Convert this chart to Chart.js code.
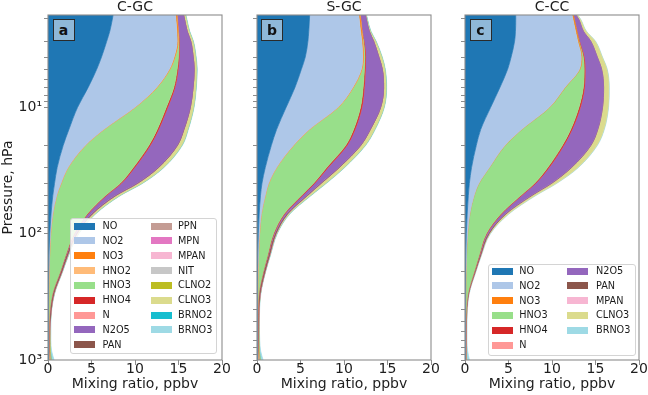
<!DOCTYPE html>
<html><head><meta charset="utf-8">
<script src="https://cdn.jsdelivr.net/npm/chart.js@4.4.1/dist/chart.umd.min.js"></script>
<style>
html,body{margin:0;padding:0;background:#fff;}
#wrap{position:relative;width:648px;height:395px;overflow:hidden;font-family:'DejaVu Sans',sans-serif;}
#wrap canvas{position:absolute;left:0;top:0;}
.leg{position:absolute;border:1px solid #d4d4d4;border-radius:3px;background:rgba(255,255,255,0.85);box-sizing:border-box;}
.sw{position:absolute;width:21px;height:7px;}
.lt{position:absolute;font-size:9.7px;line-height:10px;color:#1a1a1a;white-space:nowrap;}
.tag{position:absolute;width:22px;height:22px;box-sizing:border-box;border:1px solid #2a2a2a;background:#8fb8d8;font-weight:bold;font-size:14px;line-height:20px;text-align:center;color:#111;}
</style></head><body>
<div id="wrap">
<canvas id="ca" width="648" height="395"></canvas>
<canvas id="cb" width="648" height="395"></canvas>
<canvas id="cc" width="648" height="395"></canvas>
</div>
<script>
// ---- data (ppbv) at pressure levels (hPa) ----
const P_LEVELS = [1.86, 2, 2.5, 3, 4, 5, 7, 10, 15, 20, 30, 40, 50, 70, 100, 150, 200, 300, 500, 700, 850, 1000];
const X_TICKS = [0, 5, 10, 15, 20];
const Y_MAJOR = [10, 100, 1000];
const Y_LABELS = ['10\u00b9', '10\u00b2', '10\u00b3'];
const PANEL_TITLES = ['C-GC', 'S-GC', 'C-CC'];
const PANEL_LETTERS = ['a', 'b', 'c'];

// C-GC
const CGC_NO    = [7.48, 7.4, 7.1, 6.75, 6.15, 5.6, 4.6, 3.4, 2.4, 1.75, 1.05, 0.75, 0.55, 0.35, 0.2, 0.1, 0.07, 0.04, 0.03, 0.03, 0.03, 0.05];
const CGC_NO2   = [7.17, 7.3, 7.7, 8.1, 8.35, 8.35, 7.85, 6.6, 4.0, 2.55, 1.25, 0.75, 0.45, 0.2, 0.1, 0.07, 0.05, 0.04, 0.03, 0.03, 0.03, 0.05];
const CGC_NO3   = [0.12, 0.12, 0.12, 0.1, 0.08, 0.06, 0.05, 0.04, 0.03, 0.03, 0.02, 0.02, 0.01, 0.01, 0.01, 0.01, 0.01, 0.01, 0.01, 0.01, 0.01, 0.01];
const CGC_HNO2  = [0.02, 0.02, 0.02, 0.02, 0.02, 0.02, 0.02, 0.02, 0.02, 0.02, 0.02, 0.01, 0.01, 0.01, 0.01, 0.01, 0.01, 0.01, 0.01, 0.01, 0.01, 0.02];
const CGC_HNO3  = [0.01, 0.01, 0.01, 0.08, 0.4, 0.82, 1.93, 3.54, 6.1, 7.25, 7.46, 6.77, 5.58, 3.93, 2.68, 1.81, 1.26, 0.4, 0.04, 0.01, 0.01, 0.0];
const CGC_HNO4  = [0.02, 0.02, 0.03, 0.05, 0.08, 0.1, 0.12, 0.15, 0.15, 0.15, 0.15, 0.12, 0.1, 0.08, 0.06, 0.04, 0.03, 0.02, 0.01, 0.01, 0.01, 0.01];
const CGC_N     = [0.01, 0.01, 0.01, 0, 0, 0, 0, 0, 0, 0, 0, 0, 0, 0, 0, 0, 0, 0, 0, 0, 0, 0];
const CGC_N2O5  = [0.75, 0.8, 1.0, 1.3, 1.6, 1.85, 2.1, 2.6, 2.9, 3.1, 2.7, 1.8, 1.0, 0.4, 0.15, 0.05, 0.03, 0.02, 0.01, 0, 0, 0];
const CGC_PAN   = [0, 0, 0, 0, 0, 0, 0, 0.01, 0.02, 0.03, 0.05, 0.07, 0.08, 0.1, 0.12, 0.13, 0.13, 0.12, 0.1, 0.08, 0.07, 0.06];
const CGC_PPN   = [0, 0, 0, 0, 0, 0, 0, 0, 0, 0, 0, 0.01, 0.01, 0.01, 0.01, 0.01, 0.01, 0.01, 0, 0, 0, 0];
const CGC_MPN   = [0, 0, 0, 0, 0, 0, 0, 0, 0, 0, 0, 0, 0, 0.01, 0.01, 0.01, 0.01, 0.01, 0, 0, 0, 0];
const CGC_MPAN  = [0, 0, 0, 0, 0, 0, 0, 0, 0, 0, 0, 0, 0, 0, 0, 0.01, 0.01, 0.01, 0.01, 0.01, 0, 0];
const CGC_NIT   = [0, 0, 0, 0, 0, 0, 0, 0, 0, 0, 0, 0, 0, 0, 0, 0, 0, 0.01, 0.02, 0.03, 0.04, 0.05];
const CGC_CLNO2 = [0, 0, 0, 0, 0, 0, 0, 0, 0, 0, 0, 0, 0, 0, 0, 0, 0, 0, 0, 0.02, 0.05, 0.1];
const CGC_CLNO3 = [0.22, 0.23, 0.25, 0.27, 0.3, 0.3, 0.33, 0.38, 0.45, 0.5, 0.55, 0.5, 0.45, 0.3, 0.15, 0.05, 0.02, 0.01, 0, 0, 0, 0.02];
const CGC_BRNO2 = [0, 0, 0, 0, 0, 0, 0, 0, 0, 0, 0, 0, 0, 0, 0, 0, 0, 0, 0, 0, 0.01, 0.03];
const CGC_BRNO3 = [0.05, 0.05, 0.05, 0.05, 0.05, 0.05, 0.05, 0.05, 0.06, 0.07, 0.08, 0.08, 0.08, 0.07, 0.06, 0.05, 0.05, 0.05, 0.06, 0.08, 0.15, 0.3];

// S-GC
const SGC_NO    = [6.05, 6.03, 5.95, 5.85, 5.55, 5.1, 4.35, 3.35, 2.25, 1.65, 0.95, 0.57, 0.4, 0.25, 0.15, 0.08, 0.05, 0.03, 0.02, 0.02, 0.03, 0.05];
const SGC_NO2   = [5.65, 5.72, 5.95, 6.2, 6.6, 6.9, 6.65, 5.95, 3.75, 2.55, 1.3, 0.77, 0.55, 0.25, 0.13, 0.08, 0.06, 0.04, 0.03, 0.03, 0.03, 0.05];
const SGC_NO3   = [0.12, 0.12, 0.12, 0.1, 0.08, 0.06, 0.05, 0.04, 0.03, 0.03, 0.02, 0.02, 0.01, 0.01, 0.01, 0.01, 0.01, 0.01, 0.01, 0.01, 0.01, 0.01];
const SGC_HNO2  = [0.02, 0.02, 0.02, 0.02, 0.02, 0.02, 0.02, 0.02, 0.02, 0.02, 0.02, 0.01, 0.01, 0.01, 0.01, 0.01, 0.01, 0.01, 0.01, 0.01, 0.01, 0.02];
const SGC_HNO3  = [0.01, 0.01, 0.01, 0.08, 0.15, 0.27, 1.13, 2.54, 5.05, 5.95, 5.71, 5.13, 4.13, 2.58, 1.6, 1.02, 0.59, 0.11, 0.01, 0.01, 0.01, 0];
const SGC_HNO4  = [0.02, 0.02, 0.03, 0.05, 0.08, 0.1, 0.12, 0.15, 0.15, 0.15, 0.15, 0.12, 0.1, 0.08, 0.06, 0.04, 0.03, 0.02, 0.01, 0.01, 0.01, 0.01];
const SGC_N     = [0.01, 0.01, 0.01, 0, 0, 0, 0, 0, 0, 0, 0, 0, 0, 0, 0, 0, 0, 0, 0, 0, 0, 0];
const SGC_N2O5  = [0.57, 0.62, 0.81, 1.1, 1.52, 1.95, 2.23, 2.15, 1.75, 1.55, 1.25, 0.68, 0.5, 0.22, 0.1, 0.05, 0.03, 0.01, 0, 0, 0, 0];
const SGC_PAN   = [0, 0, 0, 0, 0, 0, 0, 0.01, 0.02, 0.03, 0.05, 0.07, 0.08, 0.1, 0.12, 0.13, 0.13, 0.12, 0.1, 0.08, 0.07, 0.06];
const SGC_PPN   = [0, 0, 0, 0, 0, 0, 0, 0, 0, 0, 0, 0.01, 0.01, 0.01, 0.01, 0.01, 0.01, 0.01, 0, 0, 0, 0];
const SGC_MPN   = [0, 0, 0, 0, 0, 0, 0, 0, 0, 0, 0, 0, 0, 0.01, 0.01, 0.01, 0.01, 0.01, 0, 0, 0, 0];
const SGC_MPAN  = [0, 0, 0, 0, 0, 0, 0, 0, 0, 0, 0, 0, 0, 0, 0, 0.01, 0.01, 0.01, 0.01, 0.01, 0, 0];
const SGC_NIT   = [0, 0, 0, 0, 0, 0, 0, 0, 0, 0, 0, 0, 0, 0, 0, 0, 0, 0.01, 0.02, 0.03, 0.04, 0.05];
const SGC_CLNO2 = [0, 0, 0, 0, 0, 0, 0, 0, 0, 0, 0, 0, 0, 0, 0, 0, 0, 0, 0, 0.02, 0.05, 0.1];
const SGC_CLNO3 = [0.1, 0.1, 0.15, 0.25, 0.35, 0.3, 0.3, 0.38, 0.5, 0.5, 0.55, 0.52, 0.35, 0.18, 0.08, 0.03, 0.01, 0, 0, 0, 0, 0.02];
const SGC_BRNO2 = [0, 0, 0, 0, 0, 0, 0, 0, 0, 0, 0, 0, 0, 0, 0, 0, 0, 0, 0, 0, 0.01, 0.03];
const SGC_BRNO3 = [0.05, 0.05, 0.05, 0.05, 0.05, 0.05, 0.05, 0.05, 0.06, 0.07, 0.08, 0.08, 0.08, 0.07, 0.06, 0.05, 0.05, 0.05, 0.06, 0.08, 0.15, 0.3];

// C-CC
const CCC_NO    = [5.83, 5.83, 5.8, 5.7, 5.3, 4.9, 4.0, 2.95, 1.8, 1.3, 0.75, 0.5, 0.38, 0.25, 0.15, 0.08, 0.05, 0.03, 0.02, 0.02, 0.03, 0.05];
const CCC_NO2   = [6.47, 6.57, 6.9, 7.25, 8.05, 8.25, 7.45, 6.75, 4.7, 3.3, 2.05, 1.1, 0.67, 0.3, 0.15, 0.09, 0.07, 0.05, 0.04, 0.04, 0.04, 0.05];
const CCC_NO3   = [0.12, 0.12, 0.12, 0.1, 0.08, 0.06, 0.05, 0.04, 0.03, 0.03, 0.02, 0.02, 0.01, 0.01, 0.01, 0.01, 0.01, 0.01, 0.01, 0.01, 0.01, 0.01];
const CCC_HNO3  = [0.01, 0.01, 0.01, 0.05, 0.17, 0.49, 2.1, 3.36, 5.62, 6.57, 6.68, 6.38, 5.34, 3.54, 2.14, 1.42, 0.92, 0.24, 0.03, 0.01, 0.01, 0.01];
const CCC_HNO4  = [0.02, 0.02, 0.03, 0.05, 0.08, 0.1, 0.12, 0.15, 0.15, 0.15, 0.15, 0.12, 0.1, 0.08, 0.06, 0.04, 0.03, 0.02, 0.01, 0.01, 0.01, 0.01];
const CCC_N     = [0.01, 0.01, 0.01, 0, 0, 0, 0, 0, 0, 0, 0, 0, 0, 0, 0, 0, 0, 0, 0, 0, 0, 0];
const CCC_N2O5  = [0.29, 0.49, 0.74, 1.3, 1.52, 1.9, 2.21, 2.55, 2.94, 3.1, 2.55, 1.78, 1.1, 0.42, 0.15, 0.05, 0.03, 0.01, 0, 0, 0, 0];
const CCC_PAN   = [0, 0, 0, 0, 0, 0, 0, 0.01, 0.02, 0.03, 0.05, 0.07, 0.08, 0.1, 0.12, 0.1, 0.08, 0.06, 0.05, 0.04, 0.03, 0.03];
const CCC_MPAN  = [0, 0, 0, 0, 0, 0, 0, 0, 0, 0, 0, 0, 0, 0.01, 0.01, 0.01, 0.01, 0.01, 0.01, 0.01, 0, 0];
const CCC_CLNO3 = [0.15, 0.18, 0.3, 0.5, 0.55, 0.6, 0.6, 0.64, 0.69, 0.67, 0.7, 0.5, 0.37, 0.25, 0.08, 0.02, 0.01, 0, 0, 0, 0.02, 0.05];
const CCC_BRNO3 = [0.05, 0.05, 0.05, 0.05, 0.05, 0.05, 0.05, 0.05, 0.06, 0.07, 0.08, 0.08, 0.08, 0.07, 0.06, 0.05, 0.05, 0.05, 0.06, 0.08, 0.15, 0.3];

// species colours (tab20)
const COLORS = {
  NO: '#1f77b4', NO2: '#aec7e8', NO3: '#ff7f0e', HNO2: '#ffbb78', HNO3: '#98df8a', HNO4: '#d62728',
  N: '#ff9896', N2O5: '#9467bd', PAN: '#8c564b', PPN: '#c49c94', MPN: '#e377c2', MPAN: '#f7b6d2',
  NIT: '#c7c7c7', CLNO2: '#bcbd22', CLNO3: '#dbdb8d', BRNO2: '#17becf', BRNO3: '#9edae5'
};

const SERIES_CGC = [['NO', CGC_NO], ['NO2', CGC_NO2], ['NO3', CGC_NO3], ['HNO2', CGC_HNO2], ['HNO3', CGC_HNO3],
  ['HNO4', CGC_HNO4], ['N', CGC_N], ['N2O5', CGC_N2O5], ['PAN', CGC_PAN], ['PPN', CGC_PPN], ['MPN', CGC_MPN],
  ['MPAN', CGC_MPAN], ['NIT', CGC_NIT], ['CLNO2', CGC_CLNO2], ['CLNO3', CGC_CLNO3], ['BRNO2', CGC_BRNO2], ['BRNO3', CGC_BRNO3]];
const SERIES_SGC = [['NO', SGC_NO], ['NO2', SGC_NO2], ['NO3', SGC_NO3], ['HNO2', SGC_HNO2], ['HNO3', SGC_HNO3],
  ['HNO4', SGC_HNO4], ['N', SGC_N], ['N2O5', SGC_N2O5], ['PAN', SGC_PAN], ['PPN', SGC_PPN], ['MPN', SGC_MPN],
  ['MPAN', SGC_MPAN], ['NIT', SGC_NIT], ['CLNO2', SGC_CLNO2], ['CLNO3', SGC_CLNO3], ['BRNO2', SGC_BRNO2], ['BRNO3', SGC_BRNO3]];
const SERIES_CCC = [['NO', CCC_NO], ['NO2', CCC_NO2], ['NO3', CCC_NO3], ['HNO3', CCC_HNO3], ['HNO4', CCC_HNO4],
  ['N', CCC_N], ['N2O5', CCC_N2O5], ['PAN', CCC_PAN], ['MPAN', CCC_MPAN], ['CLNO3', CCC_CLNO3], ['BRNO3', CCC_BRNO3]];

// ---- styling / layout ----
const TEXT = '#1e1e1e';
const FRAME = '#8c8c8c';
const Y_MIN = 1.86, Y_MAX = 1000;
Chart.defaults.font.family = "'DejaVu Sans', sans-serif";

const Y_TICK_VALUES = [];
for (let e = 0; e < 3; e++) for (let s = 1; s <= 9; s++) { const v = s * Math.pow(10, e); if (v >= 2) Y_TICK_VALUES.push(v); }
Y_TICK_VALUES.push(1000);

const framePlugin = {
  id: 'frame',
  afterDatasetsDraw(chart) {
    const {ctx, chartArea: a} = chart;
    ctx.save();
    ctx.strokeStyle = FRAME; ctx.lineWidth = 1.1;
    ctx.strokeRect(a.left, a.top, a.right - a.left, a.bottom - a.top);
    ctx.restore();
  }
};

function makeChart(id, series, cfg) {
  const datasets = series.map(([name, vals], i) => ({
    label: name,
    data: P_LEVELS.map((p, k) => ({x: vals[k], y: p})),
    backgroundColor: COLORS[name],
    borderColor: COLORS[name],
    borderWidth: 0.7,
    pointRadius: 0,
    fill: i === 0 ? 'origin' : '-1',
    cubicInterpolationMode: 'monotone'
  }));
  return new Chart(document.getElementById(id), {
    type: 'line',
    data: {datasets},
    options: {
      indexAxis: 'y',
      responsive: false, animation: false, devicePixelRatio: 1,
      layout: {autoPadding: false, padding: {left: cfg.left - cfg.yw, right: 648 - cfg.right, top: 0, bottom: 0}},
      plugins: {
        legend: {display: false}, tooltip: {enabled: false},
        title: {display: true, text: cfg.title, fullSize: false, color: TEXT,
          font: {size: 14, weight: 'normal', lineHeight: 1}, padding: {top: 0, bottom: 1}}
      },
      scales: {
        x: {
          type: 'linear', position: 'bottom', min: X_TICKS[0], max: X_TICKS[X_TICKS.length - 1], stacked: true,
          afterBuildTicks: s => { s.ticks = X_TICKS.map(v => ({value: v})); },
          ticks: {font: {size: 14, lineHeight: 1}, color: TEXT, padding: -2.5, maxRotation: 0, autoSkip: false},
          grid: {display: true, drawOnChartArea: false, drawTicks: true, tickLength: 5, tickColor: FRAME},
          border: {display: false},
          title: {display: true, text: 'Mixing ratio, ppbv', color: TEXT, font: {size: 14, lineHeight: 1}, padding: {top: 0, bottom: 4}},
          afterFit: s => { s.height = 35; s.paddingLeft = 0; s.paddingRight = 0; }
        },
        y: {
          type: 'logarithmic', position: 'left', min: Y_MIN, max: Y_MAX, reverse: true,
          afterBuildTicks: s => { s.ticks = Y_TICK_VALUES.map(v => ({value: v, major: Y_MAJOR.includes(v)})); },
          ticks: {autoSkip: false, font: {size: 14}, color: TEXT, padding: 2,
            callback: v => { const i = Y_MAJOR.indexOf(v); return (cfg.ylabels && i >= 0) ? Y_LABELS[i] : ''; }},
          grid: {display: true, drawOnChartArea: false, drawTicks: true, tickLength: 4, tickColor: FRAME},
          border: {display: false},
          title: {display: !!cfg.ylabels, text: 'Pressure, hPa', color: TEXT, font: {size: 14, lineHeight: 1}, padding: {top: 1, bottom: 0}},
          afterFit: s => { s.width = cfg.yw; s.paddingTop = 0; s.paddingBottom = 0; }
        }
      }
    },
    plugins: [framePlugin]
  });
}

makeChart('ca', SERIES_CGC, {title: PANEL_TITLES[0], left: 48, right: 222, yw: 48, ylabels: true});
makeChart('cb', SERIES_SGC, {title: PANEL_TITLES[1], left: 257, right: 431, yw: 5, ylabels: false});
makeChart('cc', SERIES_CCC, {title: PANEL_TITLES[2], left: 465, right: 639, yw: 5, ylabels: false});

// ---- panel tags and legends (HTML overlays) ----
const wrap = document.getElementById('wrap');
[[52.5, 0], [261, 1], [469.5, 2]].forEach(([x, i]) => {
  const d = document.createElement('div'); d.className = 'tag'; d.textContent = PANEL_LETTERS[i];
  d.style.left = x + 'px'; d.style.top = '19px'; wrap.appendChild(d);
});

function addLegend(series, box) {
  const bg = document.createElement('div'); bg.className = 'leg';
  Object.assign(bg.style, {left: box.x + 'px', top: box.y + 'px', width: box.w + 'px', height: box.h + 'px'});
  wrap.appendChild(bg);
  series.forEach(([name], i) => {
    const col = i < box.rows ? 0 : 1;
    const row = col ? i - box.rows : i;
    const cy = box.y0 + row * box.dy;
    const sw = document.createElement('div'); sw.className = 'sw';
    Object.assign(sw.style, {left: box.sx[col] + 'px', top: (cy - 3.5) + 'px', background: COLORS[name]});
    const t = document.createElement('div'); t.className = 'lt'; t.textContent = name;
    Object.assign(t.style, {left: box.tx[col] + 'px', top: (cy - 5) + 'px'});
    wrap.append(sw, t);
  });
}
addLegend(SERIES_CGC, {x: 70, y: 218, w: 147, h: 136, rows: 9, y0: 226, dy: 14.85, sx: [73.5, 150.5], tx: [102.5, 178]});
addLegend(SERIES_CCC, {x: 487.5, y: 263.5, w: 148, h: 92, rows: 6, y0: 271, dy: 14.8, sx: [491.7, 567.3], tx: [519.3, 596]});
</script>
</body></html>
